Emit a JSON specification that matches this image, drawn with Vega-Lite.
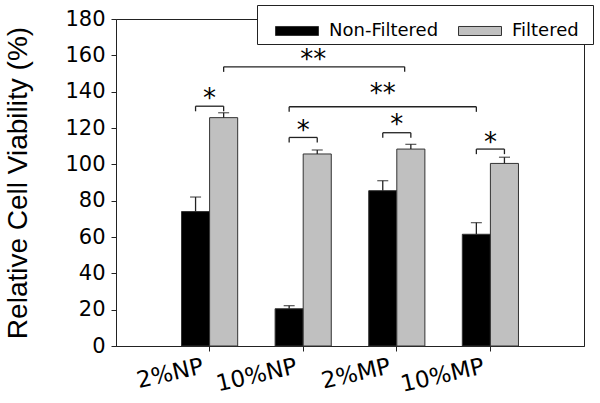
{
  "$schema": "https://vega.github.io/schema/vega-lite/v6.json",
  "width": 468,
  "height": 327,
  "autosize": {"type": "none"},
  "padding": {"left": 116, "top": 19, "right": 16, "bottom": 57},
  "background": "white",
  "config": {
    "font": "DejaVu Sans",
    "view": {"stroke": "#222", "strokeWidth": 1},
    "axis": {"grid": false, "domainColor": "#222", "tickColor": "#222", "labelColor": "#000", "titleColor": "#000", "labelFont": "DejaVu Sans", "titleFont": "Liberation Sans"},
    "axisY": {"labelFontSize": 21, "tickSize": 5, "labelPadding": 6, "titleFontSize": 28, "titleFontWeight": "normal", "titlePadding": 32},
    "axisX": {"labelOverlap": false, "labelAngle": -13, "labelFontSize": 23, "tickSize": 5, "labelPadding": 4, "labelOffset": -9}
  },
  "encoding": {
    "y": {"type": "quantitative", "title": "Relative Cell Viability (%)",
      "scale": {"domain": [0, 180], "nice": false},
      "axis": {"values": [0, 20, 40, 60, 80, 100, 120, 140, 160, 180], "labelOverlap": false, "labelSeparation": 0}}
  },
  "datasets": {
    "bars": [
      {"cat": "2%NP", "group": "Non-Filtered", "value": 74, "err": 82},
      {"cat": "2%NP", "group": "Filtered", "value": 125.7, "err": 128.4},
      {"cat": "10%NP", "group": "Non-Filtered", "value": 20.5, "err": 22.2},
      {"cat": "10%NP", "group": "Filtered", "value": 105.7, "err": 107.9},
      {"cat": "2%MP", "group": "Non-Filtered", "value": 85.5, "err": 91},
      {"cat": "2%MP", "group": "Filtered", "value": 108.4, "err": 111},
      {"cat": "10%MP", "group": "Non-Filtered", "value": 61.5, "err": 67.9},
      {"cat": "10%MP", "group": "Filtered", "value": 100.5, "err": 103.9}
    ],
    "local": [
      {"cat": "2%NP", "y": 132, "lo": 129.2, "star": 138, "label": "*"},
      {"cat": "10%NP", "y": 114.8, "lo": 112, "star": 120.7, "label": "*"},
      {"cat": "2%MP", "y": 117.4, "lo": 114.6, "star": 124, "label": "*"},
      {"cat": "10%MP", "y": 108.4, "lo": 105.6, "star": 113.8, "label": "*"}
    ],
    "wideA": [
      {"cat": "2%NP", "to": "2%MP", "y": 153.7, "lo": 150.9}
    ],
    "wideB": [
      {"cat": "10%NP", "to": "10%MP", "y": 131.7, "lo": 128.9}
    ],
    "wideStars": [
      {"cat": "10%NP", "star": 159.4, "label": "**", "pos": "A"},
      {"cat": "2%MP", "star": 141, "label": "**", "pos": "B"}
    ]
  },
  "layer": [
    {
      "data": {"name": "bars"},
      "mark": {"type": "bar", "stroke": "#333", "strokeWidth": 1},
      "encoding": {
        "x": {"field": "cat", "type": "nominal", "title": null,
          "scale": {"domain": ["2%NP", "10%NP", "2%MP", "10%MP"], "paddingInner": 0.4, "paddingOuter": 0.7}},
        "xOffset": {"field": "group", "type": "nominal", "scale": {"domain": ["Non-Filtered", "Filtered"]}},
        "y": {"field": "value"},
        "color": {"field": "group", "type": "nominal",
          "scale": {"domain": ["Non-Filtered", "Filtered"], "range": ["#000000", "#c0c0c0"]},
          "legend": {"orient": "none", "legendX": 141, "legendY": -14, "direction": "horizontal", "title": " ", "titleOrient": "right", "titlePadding": 10,
            "symbolType": "M-1,-0.21H1V0.21H-1Z", "symbolSize": 1849, "symbolStrokeColor": "#333", "symbolStrokeWidth": 1,
            "symbolOffset": 14,
            "labelFontSize": 18, "labelFont": "DejaVu Sans", "labelColor": "#000", "labelOffset": 10, "columnPadding": 5,
            "fillColor": "white", "strokeColor": "#222", "padding": 4}}
      }
    },
    {
      "data": {"name": "bars"},
      "mark": {"type": "rule", "color": "#222", "strokeWidth": 1.3},
      "encoding": {
        "x": {"field": "cat", "type": "nominal"},
        "xOffset": {"field": "group", "type": "nominal", "scale": {"domain": ["Non-Filtered", "Filtered"]}},
        "y": {"field": "value"},
        "y2": {"field": "err"}
      }
    },
    {
      "data": {"name": "bars"},
      "mark": {"type": "tick", "color": "#222", "size": 11, "thickness": 1.3, "orient": "horizontal"},
      "encoding": {
        "x": {"field": "cat", "type": "nominal"},
        "xOffset": {"field": "group", "type": "nominal", "scale": {"domain": ["Non-Filtered", "Filtered"]}},
        "y": {"field": "err"}
      }
    },
    {
      "data": {"name": "local"},
      "mark": {"type": "rule", "color": "#222", "strokeWidth": 1.3},
      "encoding": {
        "x": {"field": "cat", "type": "nominal", "bandPosition": 0.25},
        "x2": {"field": "cat", "bandPosition": 0.75},
        "y": {"field": "y"}
      }
    },
    {
      "data": {"name": "local"},
      "mark": {"type": "rule", "color": "#222", "strokeWidth": 1.3},
      "encoding": {
        "x": {"field": "cat", "type": "nominal", "bandPosition": 0.25},
        "y": {"field": "y"},
        "y2": {"field": "lo"}
      }
    },
    {
      "data": {"name": "local"},
      "mark": {"type": "rule", "color": "#222", "strokeWidth": 1.3},
      "encoding": {
        "x": {"field": "cat", "type": "nominal", "bandPosition": 0.75},
        "y": {"field": "y"},
        "y2": {"field": "lo"}
      }
    },
    {
      "data": {"name": "local"},
      "mark": {"type": "text", "fontSize": 26, "baseline": "middle", "color": "#000", "font": "DejaVu Sans", "dy": 4},
      "encoding": {
        "x": {"field": "cat", "type": "nominal"},
        "y": {"field": "star"},
        "text": {"field": "label"}
      }
    },
    {
      "data": {"name": "wideA"},
      "mark": {"type": "rule", "color": "#222", "strokeWidth": 1.3},
      "encoding": {
        "x": {"field": "cat", "type": "nominal", "bandPosition": 0.75},
        "x2": {"field": "to", "bandPosition": 0.64},
        "y": {"field": "y"}
      }
    },
    {
      "data": {"name": "wideA"},
      "mark": {"type": "rule", "color": "#222", "strokeWidth": 1.3},
      "encoding": {
        "x": {"field": "cat", "type": "nominal", "bandPosition": 0.75},
        "y": {"field": "y"},
        "y2": {"field": "lo"}
      }
    },
    {
      "data": {"name": "wideA"},
      "mark": {"type": "rule", "color": "#222", "strokeWidth": 1.3},
      "encoding": {
        "x": {"field": "to", "type": "nominal", "bandPosition": 0.64},
        "y": {"field": "y"},
        "y2": {"field": "lo"}
      }
    },
    {
      "data": {"name": "wideB"},
      "mark": {"type": "rule", "color": "#222", "strokeWidth": 1.3},
      "encoding": {
        "x": {"field": "cat", "type": "nominal", "bandPosition": 0.25},
        "x2": {"field": "to", "bandPosition": 0.25},
        "y": {"field": "y"}
      }
    },
    {
      "data": {"name": "wideB"},
      "mark": {"type": "rule", "color": "#222", "strokeWidth": 1.3},
      "encoding": {
        "x": {"field": "cat", "type": "nominal", "bandPosition": 0.25},
        "y": {"field": "y"},
        "y2": {"field": "lo"}
      }
    },
    {
      "data": {"name": "wideB"},
      "mark": {"type": "rule", "color": "#222", "strokeWidth": 1.3},
      "encoding": {
        "x": {"field": "to", "type": "nominal", "bandPosition": 0.25},
        "y": {"field": "y"},
        "y2": {"field": "lo"}
      }
    },
    {
      "data": {"name": "wideStars"},
      "transform": [{"filter": "datum.pos === 'A'"}],
      "mark": {"type": "text", "fontSize": 26, "baseline": "middle", "color": "#000", "font": "DejaVu Sans", "dx": 10, "dy": 4},
      "encoding": {
        "x": {"field": "cat", "type": "nominal"},
        "y": {"field": "star"},
        "text": {"field": "label"}
      }
    },
    {
      "data": {"name": "wideStars"},
      "transform": [{"filter": "datum.pos === 'B'"}],
      "mark": {"type": "text", "fontSize": 26, "baseline": "middle", "color": "#000", "font": "DejaVu Sans", "dy": 4},
      "encoding": {
        "x": {"field": "cat", "type": "nominal", "bandPosition": 0.25},
        "y": {"field": "star"},
        "text": {"field": "label"}
      }
    }
  ]
}
